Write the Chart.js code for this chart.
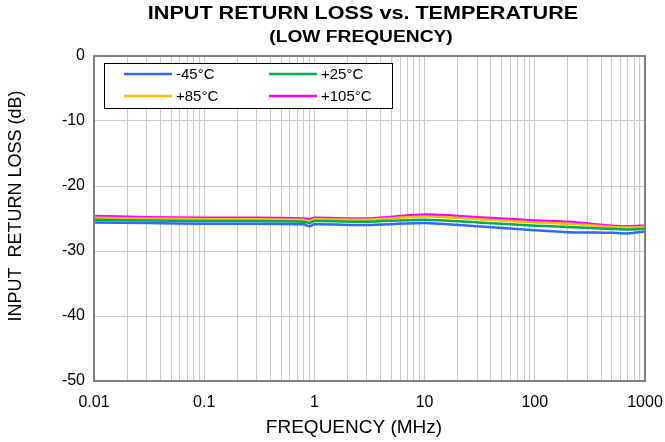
<!DOCTYPE html>
<html>
<head>
<meta charset="utf-8">
<script src="https://cdn.jsdelivr.net/npm/chart.js@4/dist/chart.umd.min.js"></script>
<style>
html,body{margin:0;padding:0;background:#fff;}
#wrap{width:665px;height:442px;position:relative;}
</style>
</head>
<body>
<div id="wrap"><canvas id="c"></canvas></div>
<script>
const freqMHz = [0.01, 0.03, 0.1, 0.3, 0.8, 0.9, 1, 3, 10, 30, 100, 200, 500, 700, 1000];
const rlMinus45 = [-25.6, -25.7, -25.8, -25.8, -25.9, -26.2, -25.9, -26.0, -25.7, -26.2, -26.8, -27.1, -27.2, -27.3, -27.0];
const rlPlus25  = [-25.2, -25.3, -25.4, -25.4, -25.5, -25.7, -25.4, -25.5, -25.2, -25.6, -26.1, -26.3, -26.6, -26.7, -26.6];
const rlPlus85  = [-24.9, -25.0, -25.1, -25.1, -25.2, -25.4, -25.1, -25.2, -24.7, -25.1, -25.6, -25.8, -26.3, -26.4, -26.3];
const rlPlus105 = [-24.6, -24.8, -24.9, -24.9, -25.0, -25.1, -24.9, -25.0, -24.4, -24.8, -25.3, -25.5, -26.1, -26.2, -26.1];
const seriesLabels = ['-45°C', '+25°C', '+85°C', '+105°C'];
const xTickLabels = ['0.01', '0.1', '1', '10', '100', '1000'];
const yTicks = [0, -10, -20, -30, -40, -50];

const colors = ['#3366FF', '#00B050', '#FFC000', '#FF00FF'];
const seriesData = [rlMinus45, rlPlus25, rlPlus85, rlPlus105];

const datasets = seriesData.map((arr, i) => ({
  label: seriesLabels[i],
  data: arr.map((v, j) => ({x: freqMHz[j], y: v})),
  borderColor: colors[i],
  backgroundColor: colors[i],
  borderWidth: 2.5,
  pointRadius: 0,
  tension: 0.2,
  fill: false
}));

const FONT = 'Liberation Sans, Arial, sans-serif';

function stretchedText(ctx, text, x, y, sx) {
  ctx.save();
  ctx.translate(x, y);
  ctx.scale(sx, 1);
  ctx.fillText(text, 0, 0);
  ctx.restore();
}

const decorPlugin = {
  id: 'decor',
  afterDraw(chart) {
    const ctx = chart.ctx;
    const a = chart.chartArea;
    ctx.save();
    ctx.fillStyle = '#000';
    ctx.textAlign = 'center';
    ctx.textBaseline = 'middle';
    ctx.font = 'bold 18px ' + FONT;
    stretchedText(ctx, 'INPUT RETURN LOSS vs. TEMPERATURE', 363, 14, 1.2);
    ctx.font = 'bold 16px ' + FONT;
    stretchedText(ctx, '(LOW FREQUENCY)', 361, 38, 1.2);
    ctx.font = '19px ' + FONT;
    ctx.fillText('FREQUENCY (MHz)', 354, 428);
    ctx.save();
    ctx.translate(16, 206);
    ctx.rotate(-Math.PI / 2);
    ctx.font = '18px ' + FONT;
    ctx.fillText('INPUT  RETURN LOSS (dB)', 0, 0);
    ctx.restore();
    ctx.strokeStyle = '#808080';
    ctx.lineWidth = 2;
    ctx.strokeRect(a.left, a.top, a.right - a.left, a.bottom - a.top);
    const lx = a.left + 10, ly = a.top + 7, lw = 288, lh = 45;
    ctx.fillStyle = '#fff';
    ctx.fillRect(lx, ly, lw, lh);
    ctx.strokeStyle = '#000';
    ctx.lineWidth = 1;
    ctx.strokeRect(lx + 0.5, ly + 0.5, lw, lh);
    ctx.font = '15px ' + FONT;
    ctx.textAlign = 'left';
    chart.data.datasets.forEach((ds, i) => {
      const col = i % 2, row = Math.floor(i / 2);
      const x0 = lx + 20 + col * 145;
      const y0 = ly + 11 + row * 22;
      ctx.strokeStyle = ds.borderColor;
      ctx.lineWidth = 2.5;
      ctx.beginPath();
      ctx.moveTo(x0, y0);
      ctx.lineTo(x0 + 48, y0);
      ctx.stroke();
      ctx.fillStyle = '#000';
      ctx.fillText(ds.label, x0 + 52, y0 + 1);
    });
    ctx.restore();
  }
};

new Chart(document.getElementById('c'), {
  type: 'line',
  data: { datasets },
  plugins: [decorPlugin],
  options: {
    responsive: true,
    maintainAspectRatio: false,
    animation: false,
    layout: { padding: { left: 0, right: 20, top: 56, bottom: 4 } },
    plugins: { legend: { display: false }, title: { display: false }, tooltip: { enabled: false } },
    scales: {
      x: {
        type: 'logarithmic',
        min: 0.01,
        max: 1000,
        afterBuildTicks(scale) {
          const t = [];
          for (let e = -2; e <= 3; e++) {
            for (let s = 1; s <= 9; s++) {
              const v = s * Math.pow(10, e);
              if (v <= 1000 + 1e-9) t.push({ value: v });
            }
          }
          scale.ticks = t;
        },
        afterFit(scale) { scale.height = 57; scale.paddingLeft = 0; scale.paddingRight = 0; },
        grid: { color: '#C8C8C8', lineWidth: 1, drawTicks: false },
        border: { display: false },
        ticks: {
          autoSkip: false,
          maxRotation: 0,
          padding: 12,
          color: '#000',
          font: { family: FONT, size: 16 },
          callback(value) {
            const e = Math.log10(value);
            if (Math.abs(e - Math.round(e)) < 1e-6) {
              return xTickLabels[Math.round(e) + 2];
            }
            return '';
          }
        },
        title: { display: false }
      },
      y: {
        min: -50,
        max: 0,
        afterBuildTicks(scale) { scale.ticks = yTicks.map(v => ({ value: v })); },
        afterFit(scale) { scale.width = 94; scale.paddingTop = 0; scale.paddingBottom = 0; },
        grid: { color: '#C8C8C8', lineWidth: 1, drawTicks: false },
        border: { display: false },
        ticks: { padding: 9, color: '#000', font: { family: FONT, size: 16 } },
        title: { display: false }
      }
    }
  }
});
</script>
</body>
</html>
